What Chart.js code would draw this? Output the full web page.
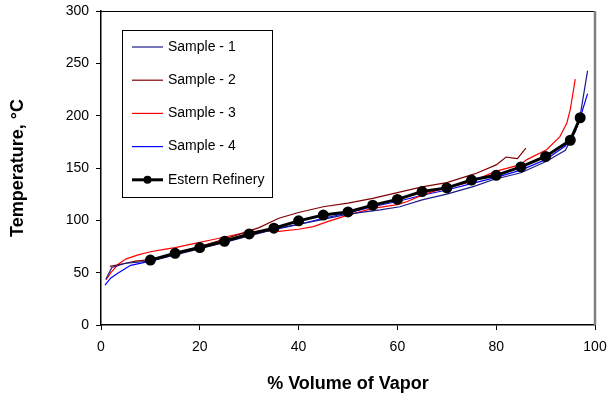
<!DOCTYPE html>
<html><head><meta charset="utf-8">
<script src="https://cdn.jsdelivr.net/npm/chart.js@4"></script>
<style>html,body{margin:0;padding:0;background:#fff;}#wrap{width:607px;height:397px;}</style>
</head><body><div id="wrap"><canvas id="c" width="607" height="397"></canvas></div>
<script>
// ---- data ----
const seriesNames = ["Sample - 1", "Sample - 2", "Sample - 3", "Sample - 4", "Estern Refinery"];

const s1X = [1, 2.2, 5, 10, 15, 20, 25, 30, 36, 43, 50, 56.5, 60.5, 65, 70, 75.5, 79.5, 85, 90, 94, 96, 97, 98.5];
const s1Y = [44, 55, 59, 61, 67, 73, 79, 85, 92.5, 99, 106, 110, 113, 119.5, 125, 132.5, 139, 145.5, 156, 167, 185, 200, 243];

const s2X = [1.8, 5, 7, 10, 15, 20, 25, 28.5, 32, 36, 40, 45, 50, 55, 60, 65, 70, 74, 76, 80, 82, 83.5, 84.3, 86];
const s2Y = [56, 59, 61, 62.5, 68.5, 75, 82, 87.5, 93, 102, 107.5, 113, 116.5, 121, 126.5, 132, 136, 142, 145, 153, 160.5, 159.5, 159, 169];

const s3X = [1, 2, 3.5, 5, 7.5, 10, 12.5, 15, 19, 22, 26, 30, 33, 36, 40, 43, 46, 50, 55, 60, 62, 64.6, 67.3, 70, 75, 80, 84.8, 86.2, 90.2, 92.9, 94.3, 95, 96];
const s3Y = [43, 50, 58, 63, 67, 70, 72, 74, 78, 81, 85, 89, 90, 89.5, 91.5, 94, 99, 105, 111.5, 115, 118, 123.4, 127.6, 131, 137, 147, 153, 158, 167.5, 180, 193, 206, 235];

const s4X = [0.8, 2, 3.4, 6, 10, 15, 20, 25, 30, 35, 40, 45, 50, 55, 60, 65, 70, 75, 80, 85, 90, 94, 96, 97, 98.5];
const s4Y = [38, 45, 49.5, 57, 61, 67.5, 73.5, 80, 86, 91, 96, 102, 107, 113, 118, 124, 129, 135, 141, 148, 158, 171, 185, 198, 221];

const refX = [10, 15, 20, 25, 30, 35, 40, 45, 50, 55, 60, 65, 70, 75, 80, 85, 90, 95, 97];
const refY = [62, 68.5, 74, 80, 87, 92.5, 99.5, 105, 108, 114.5, 120, 127.5, 131, 138.5, 143, 151, 161, 176.5, 198];

const xTicks = [0, 20, 40, 60, 80, 100];
const yTicks = [0, 50, 100, 150, 200, 250, 300];

// ---- build ----
const pts = (xs, ys) => xs.map((x, i) => ({x: x, y: ys[i]}));
const colors = ["#1a1a8a", "#800000", "#FF0000", "#0000FF", "#000000"];
const FONT = "'Liberation Sans', Arial, sans-serif";

const datasets = [
  {label: seriesNames[4], data: pts(refX, refY), borderColor: colors[4], backgroundColor: colors[4], borderWidth: 3, pointRadius: 4, pointHoverRadius: 4, order: 0},
  {label: seriesNames[0], data: pts(s1X, s1Y), borderColor: colors[0], borderWidth: 1.2, pointRadius: 0, order: 1},
  {label: seriesNames[1], data: pts(s2X, s2Y), borderColor: colors[1], borderWidth: 1.2, pointRadius: 0, order: 2},
  {label: seriesNames[2], data: pts(s3X, s3Y), borderColor: colors[2], borderWidth: 1.2, pointRadius: 0, order: 3},
  {label: seriesNames[3], data: pts(s4X, s4Y), borderColor: colors[3], borderWidth: 1.2, pointRadius: 0, order: 4}
];

const framePlugin = {
  id: 'frame',
  afterDatasetsDraw(chart) {
    const {ctx, chartArea: a} = chart;
    ctx.save();
    ctx.strokeStyle = '#000'; ctx.lineWidth = 1;
    ctx.beginPath(); ctx.moveTo(a.left, a.top + 0.5); ctx.lineTo(a.right, a.top + 0.5); ctx.stroke();
    ctx.strokeStyle = '#808080'; ctx.lineWidth = 2.5;
    ctx.beginPath(); ctx.moveTo(a.right, a.top); ctx.lineTo(a.right, a.bottom); ctx.stroke();
    ctx.restore();
  }
};

const legendPlugin = {
  id: 'boxLegend',
  afterDraw(chart) {
    const {ctx, chartArea: a} = chart;
    const bx = a.left + 21, by = a.top + 19, bw = 150, bh = 167;
    ctx.save();
    ctx.fillStyle = '#fff'; ctx.fillRect(bx, by, bw, bh);
    ctx.strokeStyle = '#000'; ctx.lineWidth = 1;
    ctx.strokeRect(bx + 0.5, by + 0.5, bw, bh);
    ctx.font = '14px ' + FONT;
    ctx.textBaseline = 'middle';
    [0, 1, 2, 3, 4].forEach((k, i) => {
      const yy = by + 17 + i * 33.2;
      ctx.strokeStyle = colors[k];
      ctx.lineWidth = k === 4 ? 3 : 1.2;
      ctx.beginPath(); ctx.moveTo(bx + 10, yy); ctx.lineTo(bx + 41, yy); ctx.stroke();
      if (k === 4) {
        ctx.fillStyle = '#000';
        ctx.beginPath(); ctx.arc(bx + 25.5, yy, 4, 0, Math.PI * 2); ctx.fill();
      }
      ctx.fillStyle = '#000';
      ctx.fillText(seriesNames[k], bx + 46, yy);
    });
    ctx.restore();
  }
};

function zeroPad(s) { s.paddingLeft = 0; s.paddingRight = 0; s.paddingTop = 0; s.paddingBottom = 0; }

new Chart(document.getElementById('c'), {
  type: 'line',
  data: {datasets: datasets},
  plugins: [framePlugin, legendPlugin],
  options: {
    responsive: false,
    animation: false,
    events: [],
    layout: {padding: {left: 0, top: 11, right: 12, bottom: 0}},
    plugins: {legend: {display: false}, tooltip: {enabled: false}},
    elements: {line: {tension: 0}},
    scales: {
      x: {
        type: 'linear', min: 0, max: 100,
        afterBuildTicks: s => { s.ticks = xTicks.map(v => ({value: v})); },
        afterFit: s => { s.height = 72; zeroPad(s); },
        ticks: {color: '#000', font: {family: FONT, size: 14}, padding: 9, maxRotation: 0},
        grid: {drawOnChartArea: false, drawTicks: true, tickLength: 5, tickColor: '#000', tickWidth: 1},
        border: {color: '#000', width: 1.5},
        title: {display: true, text: '% Volume of Vapor', color: '#000', font: {family: FONT, size: 18, weight: 'bold'}, padding: {top: 0, bottom: 2}}
      },
      y: {
        type: 'linear', min: 0, max: 300,
        afterBuildTicks: s => { s.ticks = yTicks.map(v => ({value: v})); },
        afterFit: s => { s.width = 101; zeroPad(s); },
        ticks: {color: '#000', font: {family: FONT, size: 14}, padding: 7},
        grid: {drawOnChartArea: false, drawTicks: true, tickLength: 5, tickColor: '#000', tickWidth: 1},
        border: {color: '#000', width: 1.5},
        title: {display: true, text: 'Temperature, °C', color: '#000', font: {family: FONT, size: 18, weight: 'bold'}, padding: {top: 7, bottom: 0}}
      }
    }
  }
});
</script>
</body></html>
